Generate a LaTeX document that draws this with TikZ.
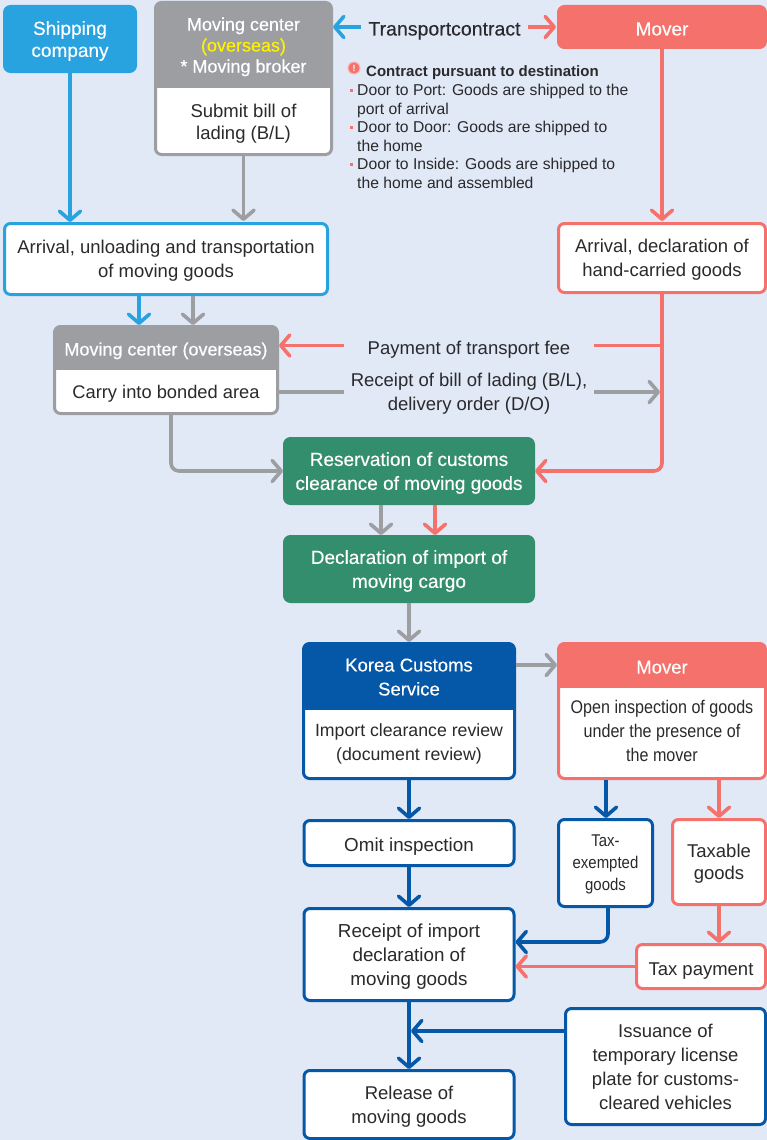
\documentclass[tikz,border=0pt]{standalone}
\usepackage{fontspec}
\usepackage{xcolor}
\usetikzlibrary{positioning,shapes,arrows.meta,calc}
\setmainfont{Liberation Sans}
\newfontfamily\narrowfont[FakeStretch=0.88]{Liberation Sans}
\newfontfamily\mediumfont[FakeBold=0.35]{Liberation Sans}
\definecolor{pagebg}{HTML}{E1E8F6}
\definecolor{shipblue}{HTML}{29A3DF}
\definecolor{centergray}{HTML}{9D9EA2}
\definecolor{moverred}{HTML}{F4716C}
\definecolor{customsgreen}{HTML}{338E6D}
\definecolor{customsnavy}{HTML}{0558A8}
\definecolor{overseasyellow}{HTML}{FFF200}
\definecolor{inkdark}{HTML}{2A2A2C}
\newcommand{\notedot}{\llap{\textcolor{moverred}{\rule[4pt]{2.6pt}{2.6pt}}\kern4.5pt}}
\tikzset{
    evenline/.style={text depth=0pt, execute at begin node={\rule{0pt}{17pt}}},
    txt/.style={evenline, inner sep=0pt, align=center, text=inkdark, font=\fontsize{18.5}{24}\selectfont},
    whitetxt/.style={txt, text=white, font=\mediumfont\fontsize{18.5}{24}\selectfont},
    box/.style={rectangle, draw=#1, line width=3pt, rounded corners=6pt, fill=white, evenline, inner sep=0pt, align=center, text=inkdark, font=\fontsize{18.5}{24}\selectfont},
    solidbox/.style={box=#1, fill=#1, text=white, font=\mediumfont\fontsize{19}{24}\selectfont},
    splitbox/.style 2 args={box=#1, path picture={
        \fill[#1, sharp corners] (path picture bounding box.north west) rectangle ([yshift=-#2]path picture bounding box.north east);
    }},
    gap/.style={txt, minimum width=250pt},
    link/.style={draw=#1, line width=3.6pt},
    flow/.style={link=#1, -{Straight Barb[length=9pt,width=21pt,line width=3.6pt,round]}, rounded corners=8pt},
}

\begin{document}
\begin{tikzpicture}[x=1pt, y=1pt]
    \useasboundingbox[fill=pagebg] (0,0) rectangle (767,-1140);

    \node[solidbox=shipblue, minimum width=131pt, minimum height=65pt, font=\mediumfont\fontsize{19}{22}\selectfont] (shipping) at (70,-39) {Shipping\\company};

    \node[splitbox={centergray}{85pt}, minimum width=176pt, minimum height=152pt, below right=-4pt and 17pt of shipping.north east] (broker) {};
    \node[whitetxt, font=\mediumfont\fontsize{18}{21}\selectfont] (brokerhead) at ([yshift=-44pt]broker.north) {Moving center\\\textcolor{overseasyellow}{(overseas)}\\* Moving broker};
    \node[txt, font=\fontsize{18.5}{22}\selectfont] (brokerbody) at ([yshift=-121pt]broker.north) {Submit bill of\\lading (B/L)};

    \node[solidbox=moverred, minimum width=207pt, minimum height=41pt] (mover) at (662,-27) {Mover};
    \node[txt, minimum width=167pt, font=\mediumfont\fontsize{19.5}{24}\selectfont] (contract) at (444.5,-27) {Transportcontract};

    \node[circle, fill=moverred, draw=moverred!50, line width=1pt, minimum size=12pt, inner sep=0pt, text=white, font=\bfseries\fontsize{9}{9}\selectfont] (warnicon) at (354,-68) {!};
    \node[txt, right=5.5pt of warnicon, font=\bfseries\fontsize{15}{18}\selectfont] (noteheading) {Contract pursuant to destination};
    \node[txt, align=left, anchor=north west, font=\fontsize{15.7}{18.5}\selectfont] (notetext) at (357,-84) {%
        \notedot Door to Port: Goods are shipped to the\\
        port of arrival\\
        \notedot Door to Door: Goods are shipped to\\
        the home\\
        \notedot Door to Inside: Goods are shipped to\\
        the home and assembled};

    \node[box=shipblue, minimum width=323pt, minimum height=71pt] (arrival) at (166,-259) {Arrival, unloading and transportation\\of moving goods};
    \node[box=moverred, minimum width=207pt, minimum height=69pt] (handcarried) at (662,-258) {Arrival, declaration of\\hand-carried goods};

    \node[splitbox={centergray}{43pt}, minimum width=223pt, minimum height=87pt, below=29pt of arrival] (center) {};
    \node[whitetxt, font=\mediumfont\fontsize{18}{24}\selectfont] (centerhead) at ([yshift=-22pt]center.north) {Moving center (overseas)};
    \node[txt, font=\fontsize{18.3}{24}\selectfont] (centerbody) at ([yshift=-65pt]center.north) {Carry into bonded area};

    \node[gap] (payment) at (469,-345.5) {Payment of transport fee};
    \node[gap] (freight) at (469,-392) {Receipt of bill of lading (B/L),\\delivery order (D/O)};

    \node[solidbox=customsgreen, minimum width=249pt, minimum height=65pt] (reservation) at (409,-471) {Reservation of customs\\clearance of moving goods};
    \node[solidbox=customsgreen, minimum width=249pt, minimum height=65pt, below=30pt of reservation] (declaration) {Declaration of import of\\moving cargo};

    \node[splitbox={customsnavy}{66pt}, minimum width=211pt, minimum height=135pt, below right=39pt and -233pt of declaration.south east] (customs) {};
    \node[whitetxt] (customshead) at ([yshift=-35pt]customs.north) {Korea Customs\\Service};
    \node[txt, font=\fontsize{17.7}{24}\selectfont] (customsbody) at ([yshift=-100pt]customs.north) {Import clearance review\\(document review)};

    \node[splitbox={moverred}{44pt}, minimum width=207pt, minimum height=135pt, right=41pt of customs] (moverbox) {};
    \node[whitetxt] (moverhead) at ([yshift=-23pt]moverbox.north) {Mover};
    \node[txt, font=\narrowfont\fontsize{18.3}{24}\selectfont] (moverbody) at ([yshift=-89pt]moverbox.north) {Open inspection of goods\\under the presence of\\the mover};

    \node[box=customsnavy, minimum width=210pt, minimum height=45pt, below=39pt of customs, font=\fontsize{18.8}{24}\selectfont] (omit) {Omit inspection};
    \node[box=customsnavy, minimum width=210pt, minimum height=92pt, below=40pt of omit, font=\fontsize{18.8}{24}\selectfont] (clearance) {Receipt of import\\declaration of\\moving goods};
    \node[box=customsnavy, minimum width=210pt, minimum height=68pt, below=67pt of clearance] (release) {Release of\\moving goods};

    \node[box=customsnavy, minimum width=94pt, minimum height=87pt, below right=38pt and -210pt of moverbox.south east, font=\narrowfont\fontsize{17}{22}\selectfont] (exempt) {Tax-\\exempted\\goods};
    \node[box=moverred, minimum width=93pt, minimum height=85pt, below left=38pt and 0pt of moverbox.south east, font=\fontsize{18.5}{22}\selectfont] (taxable) {Taxable\\goods};
    \node[box=moverred, minimum width=129pt, minimum height=44pt, below left=37pt and 0pt of taxable.south east] (taxpay) {Tax payment};
    \node[box=customsnavy, minimum width=200pt, minimum height=116pt, below left=17pt and 0pt of taxpay.south east] (issue) {Issuance of\\temporary license\\plate for customs-\\cleared vehicles};

    \coordinate (merge) at (411,-1031);

    \draw[flow=shipblue] (shipping.south) -- (shipping.south |- arrival.north);
    \draw[flow=centergray] (broker.south) -- ([yshift=1pt]broker.south |- arrival.north);
    \draw[flow=moverred] (mover.south) -- ([yshift=1pt]handcarried.north);
    \draw[flow=shipblue] (contract) -- (broker.east |- contract);
    \draw[flow=moverred] (contract) -- ([xshift=-1pt]mover.west);

    \draw[flow=shipblue] ([xshift=-27pt]arrival.south) -- ([xshift=-27pt]center.north);
    \draw[flow=centergray] ([xshift=27pt]arrival.south) -- ([xshift=27pt]center.north);

    \draw[link=moverred] (payment -| handcarried.south) -- (payment);
    \draw[flow=moverred] (payment) -- (payment -| center.east);
    \draw[link=centergray] (center.east |- freight) -- (freight);
    \draw[flow=centergray] (freight) -- ([xshift=-2pt]freight -| handcarried.south);
    \draw[flow=moverred] (handcarried.south) |- (reservation.east);
    \draw[flow=centergray] ([xshift=5pt]center.south) |- (reservation.west);

    \draw[flow=centergray] ([xshift=-28pt]reservation.south) -- ([xshift=-28pt]declaration.north);
    \draw[flow=moverred] ([xshift=26pt]reservation.south) -- ([xshift=26pt]declaration.north);
    \draw[flow=centergray] (declaration.south) -- (customs.north);
    \draw[flow=centergray] (customs.east |- moverhead) -- (moverbox.west |- moverhead);

    \draw[flow=customsnavy] (customs.south) -- (omit.north);
    \draw[flow=customsnavy] (omit.south) -- (clearance.north);
    \draw[flow=customsnavy] (clearance.south) -- (release.north);
    \draw[flow=customsnavy] ([xshift=-56pt]moverbox.south) -- ([xshift=-56pt]moverbox.south |- exempt.north);
    \draw[flow=moverred] ([xshift=57pt]moverbox.south) -- ([xshift=57pt]moverbox.south |- taxable.north);
    \draw[flow=moverred] (taxable.south) -- (taxable.south |- taxpay.north);
    \draw[flow=customsnavy] ([xshift=2.5pt]exempt.south) |- ([yshift=12.5pt]clearance.east);
    \draw[flow=moverred] (taxpay.west) -- (taxpay.west -| clearance.east);
    \draw[flow=customsnavy] ([yshift=35.5pt]issue.west) -- (merge);
\end{tikzpicture}
\end{document}
